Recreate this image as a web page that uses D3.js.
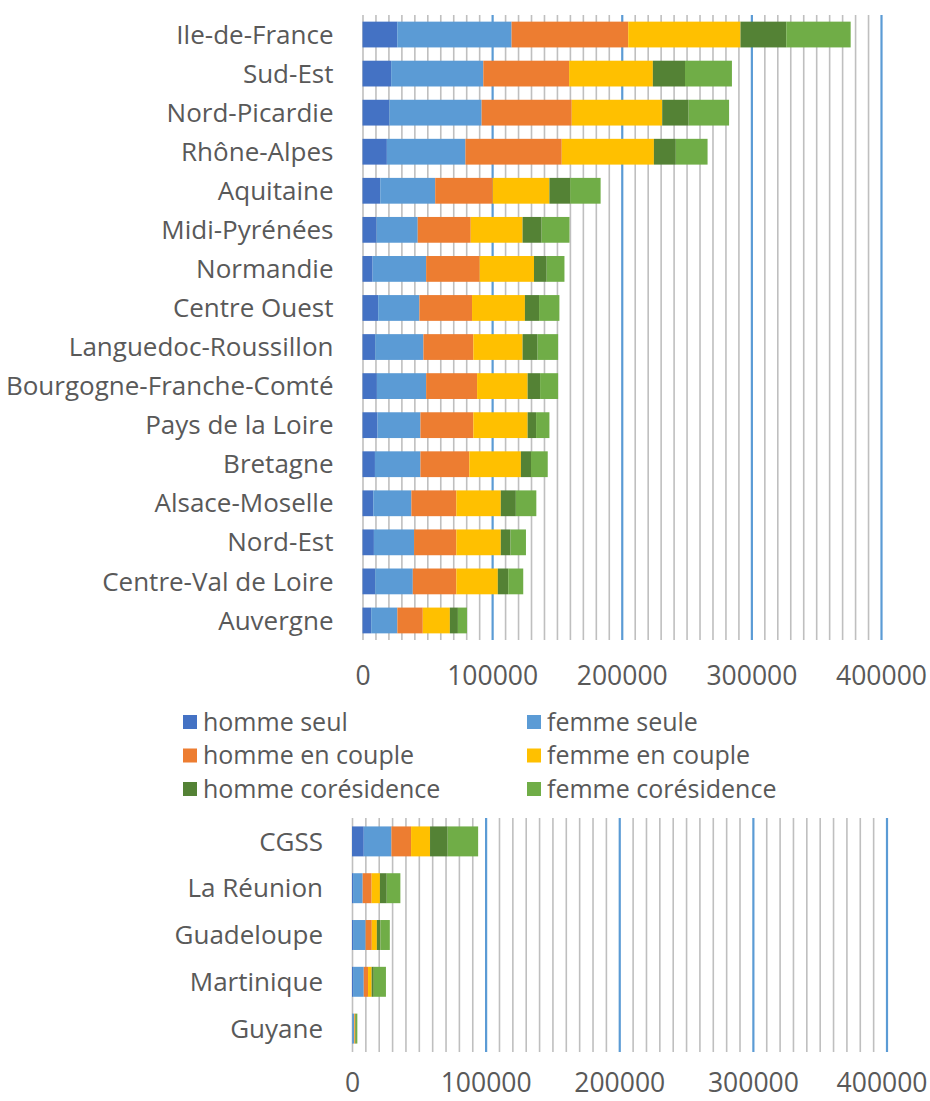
<!DOCTYPE html>
<html>
<head>
    <title>D3.js</title>
</head>
<style>
    body { margin: 0; background: #fff; }
    text { font-family: "Open Sans", sans-serif; fill: #595959; }
</style>
<body>
<svg width="930" height="1101"></svg>
<script src="https://d3js.org/d3.v7.min.js"></script>
<script>
var series = ["homme seul", "femme seule", "homme en couple", "femme en couple", "homme corésidence", "femme corésidence"];
var colors = ["#4472c4", "#5b9bd5", "#ed7d31", "#ffc000", "#548235", "#70ad47"];

var regions = ["Ile-de-France", "Sud-Est", "Nord-Picardie", "Rhône-Alpes", "Aquitaine", "Midi-Pyrénées",
    "Normandie", "Centre Ouest", "Languedoc-Roussillon", "Bourgogne-Franche-Comté", "Pays de la Loire",
    "Bretagne", "Alsace-Moselle", "Nord-Est", "Centre-Val de Loire", "Auvergne"];
var hommeSeul     = [26800, 22100, 20700, 18800, 13700, 10900, 7800, 12100, 9800, 11100, 11600, 9600, 8300, 8800, 9800, 6700];
var femmeSeule    = [88200, 71100, 71200, 60600, 42400, 31700, 41300, 31800, 37200, 38000, 33100, 35100, 29400, 31000, 29000, 20200];
var hommeCouple   = [90000, 66200, 69500, 74300, 44400, 40900, 41300, 40600, 38500, 39300, 40800, 37700, 34700, 32600, 33600, 19600];
var femmeCouple   = [86600, 64600, 69800, 71100, 43700, 40000, 41900, 40800, 38000, 39000, 41900, 39800, 34300, 34300, 32000, 20900];
var hommeCores    = [35300, 24800, 20400, 16900, 16000, 14700, 9800, 10900, 11600, 9600, 6500, 7800, 11600, 7500, 8000, 6200];
var femmeCores    = [49700, 36200, 31200, 24500, 23500, 21500, 13700, 15700, 15800, 13900, 10300, 12900, 15800, 11900, 11600, 7000];

var dom = ["CGSS", "La Réunion", "Guadeloupe", "Martinique", "Guyane"];
var domHommeSeul   = [8800, 800, 800, 800, 300];
var domFemmeSeule  = [20700, 7200, 9400, 8000, 1200];
var domHommeCouple = [14700, 6700, 4600, 3200, 500];
var domFemmeCouple = [14200, 6200, 3800, 2700, 500];
var domHommeCores  = [13200, 5100, 2700, 1600, 500];
var domFemmeCores  = [22800, 10200, 7000, 9100, 1000];

var tickLabels = [0, 100000, 200000, 300000, 400000];

var svg = d3.select("svg");

function rows(cats, cols) {
    return cats.map(function(c, i) {
        var r = {cat: c};
        series.forEach(function(s, j) { r[s] = cols[j][i]; });
        return r;
    });
}

function drawChart(data, cats, x0, x1, y0, y1, pad, labelY) {
    var x = d3.scaleLinear().domain([0, 400000]).range([x0, x1]);
    var y = d3.scaleBand().domain(cats).range([y0, y1]).paddingInner(pad).paddingOuter(pad / 2);

    // gridlines
    var grid = svg.append("g")
        .attr("transform", "translate(0," + y1 + ")")
        .call(d3.axisBottom(x).tickValues(d3.range(0, 400001, 10000)).tickSize(-(y1 - y0)).tickFormat(""));
    grid.select(".domain").remove();
    grid.selectAll(".tick line")
        .attr("stroke", function(d) { return d % 100000 === 0 && d > 0 ? "#5b9bd5" : "#bfbfbf"; })
        .attr("stroke-width", function(d) { return d % 100000 === 0 && d > 0 ? 2.2 : 1.6; });

    var stacked = d3.stack().keys(series)(data);
    svg.append("g").selectAll("g")
        .data(stacked)
        .join("g")
        .attr("fill", function(d, i) { return colors[i]; })
        .selectAll("rect")
        .data(function(d) { return d; })
        .join("rect")
        .attr("x", function(d) { return x(d[0]); })
        .attr("width", function(d) { return x(d[1]) - x(d[0]); })
        .attr("y", function(d) { return y(d.data.cat); })
        .attr("height", y.bandwidth());

    // category axis
    var ya = svg.append("g")
        .attr("transform", "translate(" + (x0 - 29) + ",0)")
        .call(d3.axisLeft(y).tickSize(0).tickPadding(0));
    ya.select(".domain").remove();
    ya.selectAll("text").style("font-size", "26px").attr("fill", "#595959").attr("font-family", "Open Sans").attr("dy", "0.35em");

    // value axis labels
    var xa = svg.append("g")
        .attr("transform", "translate(0," + labelY + ")")
        .call(d3.axisBottom(x).tickValues(tickLabels).tickSize(0).tickPadding(0).tickFormat(d3.format("d")));
    xa.select(".domain").remove();
    xa.selectAll("text").style("font-size", "26.5px").attr("fill", "#595959").attr("font-family", "Open Sans").attr("dy", "0.35em")
        .each(function(d) {
            // keep the last label inside the page like the original
            var over = x(d) + this.getComputedTextLength() / 2 - 927;
            if (over > 0) d3.select(this).attr("dx", -over);
        });
}

drawChart(rows(regions, [hommeSeul, femmeSeule, hommeCouple, femmeCouple, hommeCores, femmeCores]),
    regions, 362.5, 881, 15, 640, 0.34, 676);
drawChart(rows(dom, [domHommeSeul, domFemmeSeule, domHommeCouple, domFemmeCouple, domHommeCores, domFemmeCores]),
    dom, 352, 886.5, 818, 1052, 0.36, 1083);

// legend
var legend = svg.append("g");
series.forEach(function(s, i) {
    var col = i % 2, row = Math.floor(i / 2);
    var lx = col === 0 ? 183 : 527, ly = 722 + row * 33.5;
    legend.append("rect").attr("x", lx).attr("y", ly - 7).attr("width", 14).attr("height", 14).attr("fill", colors[i]);
    legend.append("text").attr("x", lx + 20).attr("y", ly).attr("dy", "0.35em")
        .style("font-size", "25px").text(s);
});
</script>
</body>
</html>
